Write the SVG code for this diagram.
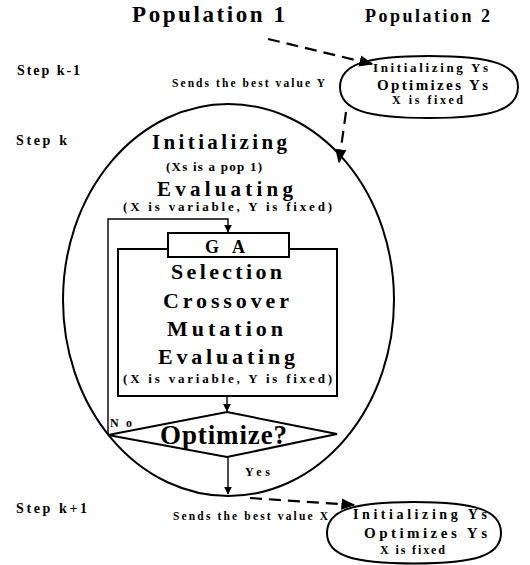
<svg xmlns="http://www.w3.org/2000/svg" width="530" height="565" viewBox="0 0 530 565">
<style>
text{font-family:"Liberation Serif","Times New Roman",serif;font-weight:bold;fill:#000}
.s{fill:none;stroke:#000;stroke-width:2}
.t{fill:none;stroke:#000;stroke-width:1.4}
.d{fill:none;stroke:#000;stroke-width:2.2;stroke-dasharray:12 7}
</style>
<defs>
<marker id="ah" viewBox="0 0 10 10" refX="9" refY="5" markerWidth="8" markerHeight="8" markerUnits="userSpaceOnUse" orient="auto"><path d="M0,0 L10,5 L0,10 z" fill="#000"/></marker>
<marker id="ad" viewBox="0 0 10 10" refX="9" refY="5" markerWidth="14" markerHeight="14" markerUnits="userSpaceOnUse" orient="auto"><path d="M0,1 L10,5 L0,9 z" fill="#000"/></marker>
</defs>
<g id="labels">
<text x="132" y="22" font-size="23" textLength="153" lengthAdjust="spacing">Population 1</text>
<text x="365" y="22" font-size="18" textLength="125" lengthAdjust="spacing">Population 2</text>
<text x="17" y="75" font-size="14" textLength="63" lengthAdjust="spacing">Step k-1</text>
<text x="16" y="145" font-size="14" textLength="51" lengthAdjust="spacing">Step k</text>
<text x="16" y="513" font-size="14" textLength="71" lengthAdjust="spacing">Step k+1</text>
<text x="172" y="87" font-size="11.5" textLength="153" lengthAdjust="spacing">Sends the best value Y</text>
<text x="173" y="520" font-size="11.5" textLength="155" lengthAdjust="spacing">Sends the best value X</text>
</g>
<g id="pop1">
<ellipse class="s" cx="228.5" cy="300" rx="165.5" ry="196"/>
<text x="152" y="149" font-size="21" textLength="135" lengthAdjust="spacing">Initializing</text>
<text x="166" y="171" font-size="13" textLength="96" lengthAdjust="spacing">(Xs is a pop 1)</text>
<text x="157" y="196" font-size="21" textLength="136" lengthAdjust="spacing">Evaluating</text>
<text x="123" y="211" font-size="13" textLength="209" lengthAdjust="spacing">(X is variable, Y is fixed)</text>
</g>
<g id="ga">
<rect class="s" x="118" y="249" width="219" height="147"/>
<rect x="168" y="233" width="121" height="24" fill="#fff" stroke="#000" stroke-width="2"/>
<text x="205" y="253" font-size="18" textLength="40" lengthAdjust="spacing">GA</text>
<text x="171" y="279" font-size="22" textLength="111" lengthAdjust="spacing">Selection</text>
<text x="163" y="308" font-size="22" textLength="126" lengthAdjust="spacing">Crossover</text>
<text x="167" y="336" font-size="22" textLength="116" lengthAdjust="spacing">Mutation</text>
<text x="158" y="364" font-size="22" textLength="137" lengthAdjust="spacing">Evaluating</text>
<text x="123" y="383" font-size="13" textLength="209" lengthAdjust="spacing">(X is variable, Y is fixed)</text>
</g>
<g id="decision">
<polygon class="s" points="227,412 337,434 227,457 108,435"/>
<text x="160" y="444" font-size="27" textLength="127" lengthAdjust="spacing">Optimize?</text>
</g>
<g id="pop2-top">
<path class="s" d="M340,87 C340,64.7 364.9,56 429,56 C493.1,56 518,64.7 518,87 C518,109.3 493.1,118 429,118 C364.9,118 340,109.3 340,87Z"/>
<text x="373" y="72" font-size="13" textLength="115" lengthAdjust="spacing">Initializing Ys</text>
<text x="377" y="90" font-size="15" textLength="111" lengthAdjust="spacing">Optimizes Ys</text>
<text x="392" y="104" font-size="12" textLength="71" lengthAdjust="spacing">X is fixed</text>
</g>
<g id="pop2-bottom">
<path class="s" d="M327,533 C327,510.7 351.4,502 414,502 C476.6,502 501,510.7 501,533 C501,555 476.6,563.5 414,563.5 C351.4,563.5 327,555 327,533Z"/>
<text x="353" y="519" font-size="14" textLength="134" lengthAdjust="spacing">Initializing Ys</text>
<text x="364" y="538" font-size="15" textLength="123" lengthAdjust="spacing">Optimizes Ys</text>
<text x="380" y="554" font-size="12" textLength="65" lengthAdjust="spacing">X is fixed</text>
</g>
<g id="connectors">
<polyline class="t" points="108,435 108,219 228,219 228,232" marker-end="url(#ah)"/>
<line class="t" x1="227" y1="396" x2="227" y2="411" marker-end="url(#ah)"/>
<line class="t" x1="228" y1="457" x2="228" y2="494" marker-end="url(#ah)"/>
<text x="110" y="427" font-size="12" textLength="22" lengthAdjust="spacing">No</text>
<text x="245" y="476" font-size="12" textLength="25" lengthAdjust="spacing">Yes</text>
<line class="d" x1="268" y1="39" x2="372" y2="64" marker-end="url(#ad)"/>
<line class="d" x1="346" y1="112" x2="339" y2="162" marker-end="url(#ad)"/>
<line class="d" x1="250" y1="498" x2="354" y2="505" marker-end="url(#ad)"/>
</g>
</svg>
